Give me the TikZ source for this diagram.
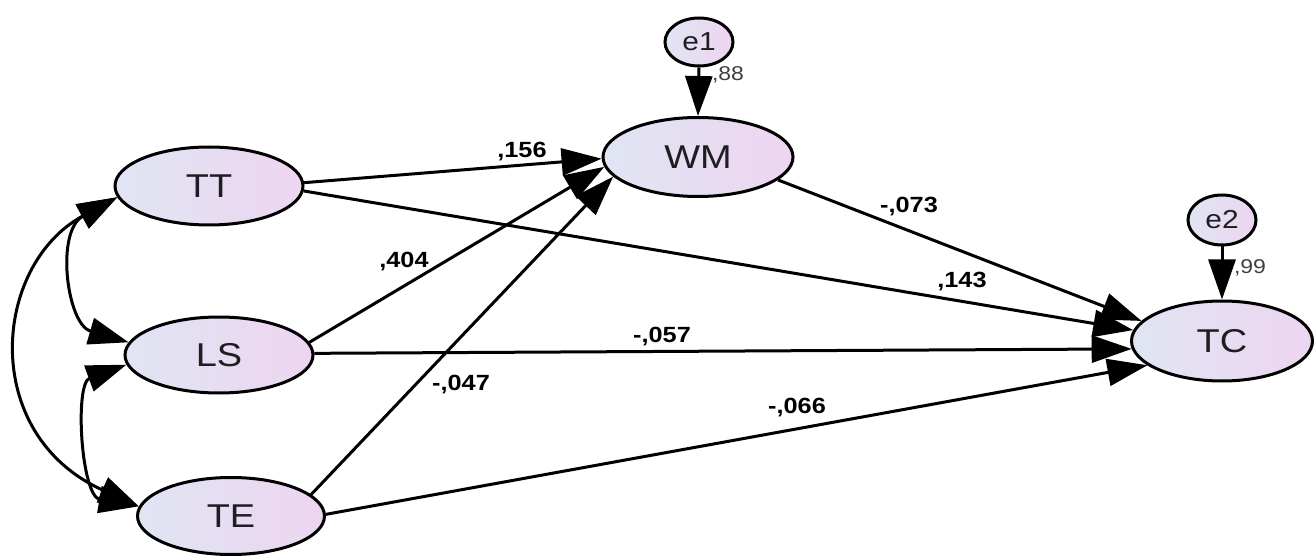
\documentclass[tikz,border=0pt]{standalone}
\usepackage{fontspec}
\setmainfont{Liberation Sans}[FakeStretch=1.15]
\usetikzlibrary{arrows.meta,shapes.geometric}
\definecolor{fillL}{RGB}{224,229,242}
\definecolor{fillR}{RGB}{237,213,241}
\definecolor{ink}{RGB}{30,30,34}
\begin{document}
\begin{tikzpicture}[x=1pt,y=-1pt,
  latent/.style={ellipse, draw=black, line width=3pt, left color=fillL, right color=fillR,
    inner sep=0pt, text=ink, font=\fontsize{33}{38}\selectfont},
  resid/.style={latent, font=\fontsize{26}{30}\selectfont},
  effect/.style={line width=3pt, -{Triangle[length=40pt,width=27pt]}},
  cov/.style={line width=3pt, {Triangle[length=40pt,width=27pt]}-{Triangle[length=40pt,width=27pt]}},
  coef/.style={inner sep=0pt, font=\bfseries\fontsize{22}{26}\selectfont},
  errvar/.style={inner sep=0pt, text=ink!85, font=\fontsize{20}{24}\selectfont}
]
\useasboundingbox (0,0) rectangle (1315,556);

% latent variables
\node[latent, minimum width=188pt, minimum height=78pt] (TT) at (209,186) {TT};
\node[latent, minimum width=188pt, minimum height=76pt] (LS) at (219,355) {LS};
\node[latent, minimum width=187pt, minimum height=77pt] (TE) at (231,516) {TE};
\node[latent, minimum width=190pt, minimum height=79pt] (WM) at (698,157) {WM};
\node[latent, minimum width=181pt, minimum height=80pt] (TC) at (1222,341) {TC};

% error terms
\node[resid, minimum width=68pt, minimum height=48pt] (e1) at (699,42) {e1};
\node[resid, minimum width=68pt, minimum height=50pt] (e2) at (1222,220) {e2};

% directed effects
\draw[effect] (TT.2) -- (WM.181);
\draw[effect] (LS.8) -- (WM.186);
\draw[effect] (TE.15) -- (WM.193);
\draw[effect] (TT.-3) -- (TC.173);
\draw[effect] (LS.1) -- (TC.185);
\draw[effect] (TE.1) -- (TC.198);
\draw[effect] (WM.-16) -- (TC.166);
\draw[effect] (e1.south) -- (WM.north);
\draw[effect] (e2.south) -- (TC.north);

% covariances among the exogenous variables
\draw[cov] (TT.187) .. controls +(-62,34) and +(-62,-18) .. (LS.172);
\draw[cov] (LS.186) .. controls +(-52,19) and +(-58,-10) .. (TE.174);
\draw[cov] (TT.187) .. controls +(-125,68) and +(-160,-72) .. (TE.174);

% coefficients
\node[coef] (c1) at (522,152) {,156};
\node[coef] (c2) at (404,262) {,404};
\node[coef] (c3) at (461,385) {-,047};
\node[coef] (c4) at (662,337) {-,057};
\node[coef] (c5) at (797,408) {-,066};
\node[coef] (c6) at (909,207) {-,073};
\node[coef] (c7) at (962,282) {,143};
\node[errvar] (v1) at (728,75) {,88};
\node[errvar] (v2) at (1250,268) {,99};
\end{tikzpicture}
\end{document}
